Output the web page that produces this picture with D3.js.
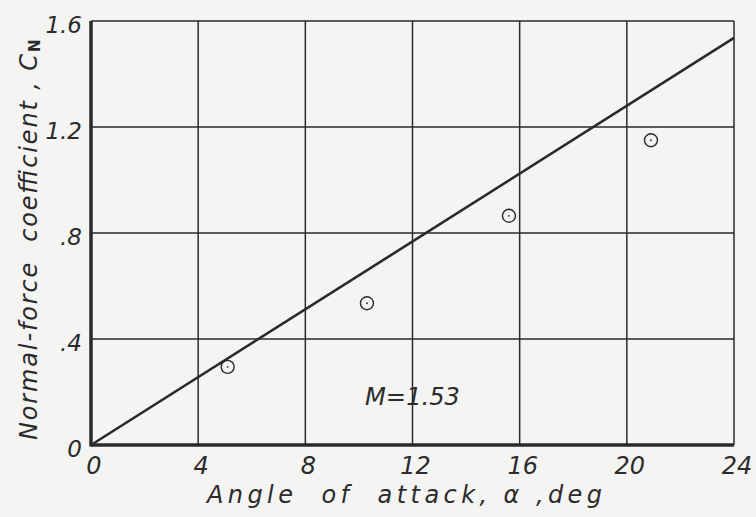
<!DOCTYPE html>
<html>
<head>
<meta charset="utf-8">
<script src="https://cdn.jsdelivr.net/npm/d3@7"></script>
<style>
  body { margin: 0; background: #f4f4f3; }
  svg { display: block; }
  text { font-family: "DejaVu Sans", sans-serif; font-style: italic; fill: #2b2b2b; white-space: pre; }
</style>
</head>
<body>
<div class="chart"></div>
<script>
// data
const xTicks = [0, 4, 8, 12, 16, 20, 24];
const xTickLabels = ["0", "4", "8", "12", "16", "20", "24"];
const yTicks = [0, 0.4, 0.8, 1.2, 1.6];
const yTickLabels = ["0", ".4", ".8", "1.2", "1.6"];
const testAlpha = [5.1, 10.3, 15.6, 20.9];
const testCN = [0.295, 0.535, 0.865, 1.15];
const theoryAlpha = [0, 24];
const theoryCN = [0, 1.536];
const machLabel = "M=1.53";

const width = 756, height = 517;
const margin = {left: 91, right: 22, top: 21, bottom: 72};

const svg = d3.select(".chart").append("svg")
    .attr("width", width)
    .attr("height", height);

const x = d3.scaleLinear().domain([0, 24]).range([margin.left, width - margin.right]);
const y = d3.scaleLinear().domain([0, 1.6]).range([height - margin.bottom, margin.top]);

const ink = "#2a2a2a";

// grid
svg.append("g").selectAll("line")
    .data(xTicks)
    .enter().append("line")
    .attr("x1", d => x(d)).attr("x2", d => x(d))
    .attr("y1", y(0)).attr("y2", y(1.6))
    .attr("stroke", ink).attr("stroke-width", 1.5);

svg.append("g").selectAll("line")
    .data(yTicks)
    .enter().append("line")
    .attr("x1", x(0)).attr("x2", x(24))
    .attr("y1", d => y(d)).attr("y2", d => y(d))
    .attr("stroke", ink).attr("stroke-width", 1.5);

// heavy left and bottom axes
svg.append("line")
    .attr("x1", x(0)).attr("x2", x(0))
    .attr("y1", y(0) + 1.5).attr("y2", y(1.6))
    .attr("stroke", ink).attr("stroke-width", 3.5);
svg.append("line")
    .attr("x1", x(0)).attr("x2", x(24))
    .attr("y1", y(0)).attr("y2", y(0))
    .attr("stroke", ink).attr("stroke-width", 3.5);

// tick labels
svg.append("g").selectAll("text")
    .data(xTicks)
    .enter().append("text")
    .attr("x", d => x(d) + 3)
    .attr("y", y(0) + 29)
    .attr("text-anchor", "middle")
    .style("font-size", "24px")
    .text((d, i) => xTickLabels[i]);

svg.append("g").selectAll("text")
    .data(yTicks)
    .enter().append("text")
    .attr("x", 82)
    .attr("y", d => y(d) + 12)
    .attr("text-anchor", "end")
    .style("font-size", "23px")
    .text((d, i) => yTickLabels[i]);

// theory line
const line = d3.line()
    .x(d => x(d[0]))
    .y(d => y(d[1]));

svg.append("path")
    .datum(d3.zip(theoryAlpha, theoryCN))
    .attr("d", line)
    .attr("fill", "none")
    .attr("stroke", ink)
    .attr("stroke-width", 2.6);

// test points
const pts = svg.append("g").selectAll("g")
    .data(d3.zip(testAlpha, testCN))
    .enter().append("g")
    .attr("transform", d => "translate(" + x(d[0]) + "," + y(d[1]) + ")");

pts.append("circle")
    .attr("r", 6.5)
    .attr("fill", "none")
    .attr("stroke", ink)
    .attr("stroke-width", 1.4);
pts.append("circle")
    .attr("r", 0.9)
    .attr("fill", ink);

// Mach label
svg.append("text")
    .attr("x", 365)
    .attr("y", 405)
    .attr("textLength", 95)
    .attr("lengthAdjust", "spacingAndGlyphs")
    .style("font-size", "24px")
    .text(machLabel);

// axis titles
svg.append("text")
    .attr("x", 207)
    .attr("y", 503)
    .attr("textLength", 395)
    .attr("lengthAdjust", "spacing")
    .style("font-size", "24px")
    .text("Angle  of  attack, α ,deg");

const yTitle = svg.append("g")
    .attr("transform", "translate(37,440) rotate(-90)");
yTitle.append("text")
    .attr("x", 0)
    .attr("y", 0)
    .attr("textLength", 386)
    .attr("lengthAdjust", "spacing")
    .style("font-size", "24px")
    .text("Normal-force  coefficient , C");
yTitle.append("text")
    .attr("x", 388)
    .attr("y", 3)
    .style("font-size", "15px")
    .style("font-style", "normal")
    .style("font-weight", "bold")
    .text("N");
</script>
</body>
</html>
